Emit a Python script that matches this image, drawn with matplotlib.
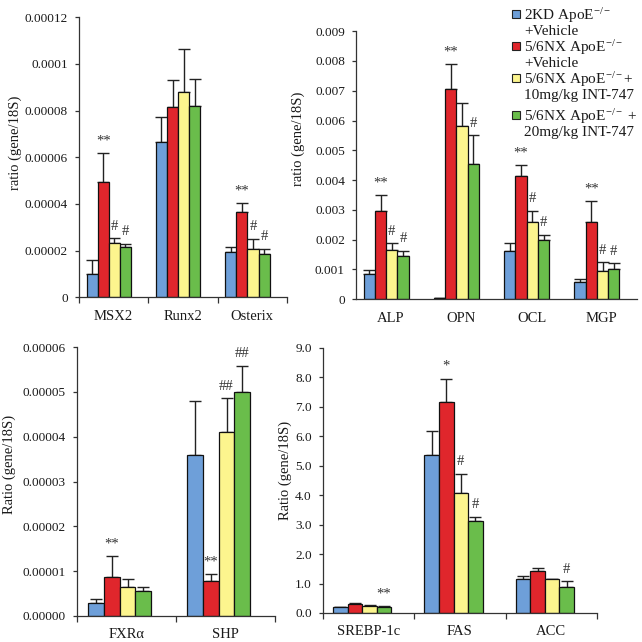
import matplotlib.pyplot as plt
import numpy as np
from matplotlib.patches import Rectangle

plt.rcParams['font.family'] = ['Liberation Serif', 'DejaVu Serif']
plt.rcParams['mathtext.fontset'] = 'custom'
plt.rcParams['mathtext.rm'] = 'Liberation Serif'
plt.rcParams['mathtext.it'] = 'Liberation Serif:italic'

colors = ['#6E9FD9', '#E0262C', '#FCF58E', '#6ABD4B']
legend_labels = ['2KD ApoE$^{-/-}$\n+Vehicle',
                 '5/6NX ApoE$^{-/-}$\n+Vehicle',
                 '5/6NX ApoE$^{-/-}$+\n10mg/kg INT-747',
                 '5/6NX ApoE$^{-/-}$ +\n20mg/kg INT-747']

# top left: bone markers
cats_a = ['MSX2', 'Runx2', 'Osterix']
mean_a = [[1.0e-5, 6.65e-5, 1.92e-5],
          [4.94e-5, 8.17e-5, 3.66e-5],
          [2.32e-5, 8.81e-5, 2.08e-5],
          [2.16e-5, 8.21e-5, 1.84e-5]]
top_a = [[1.6e-5, 7.74e-5, 2.16e-5],
         [6.2e-5, 9.3e-5, 4.03e-5],
         [2.52e-5, 1.065e-4, 2.5e-5],
         [2.3e-5, 9.34e-5, 2.08e-5]]
marks_a = [(0, 1, '**'), (0, 2, '#'), (0, 3, '#'), (2, 1, '**'), (2, 2, '#'), (2, 3, '#')]
ticks_a = [0, 0.00002, 0.00004, 0.00006, 0.00008, 0.0001, 0.00012]
ticklab_a = ['0', '0.00002', '0.00004', '0.00006', '0.00008', '0.0001', '0.00012']

# top right
cats_b = ['ALP', 'OPN', 'OCL', 'MGP']
mean_b = [[0.00084, 0.00003, 0.00162, 0.00057],
          [0.00296, 0.00705, 0.00414, 0.0026],
          [0.00166, 0.0058, 0.0026, 0.00095],
          [0.00145, 0.00455, 0.002, 0.001]]
top_b = [[0.00097, 0.00003, 0.0019, 0.00068],
         [0.0035, 0.0079, 0.0045, 0.0033],
         [0.00187, 0.0066, 0.00296, 0.00124],
         [0.00162, 0.0055, 0.00217, 0.0012]]
marks_b = [(0, 1, '**'), (0, 2, '#'), (0, 3, '#'), (1, 1, '**'), (1, 3, '#'),
           (2, 1, '**'), (2, 2, '#'), (2, 3, '#'), (3, 1, '**'), (3, 2, '#'), (3, 3, '#')]
ticks_b = [0, 0.001, 0.002, 0.003, 0.004, 0.005, 0.006, 0.007, 0.008, 0.009]
ticklab_b = ['0', '0.001', '0.002', '0.003', '0.004', '0.005', '0.006', '0.007', '0.008', '0.009']

# bottom left
cats_c = ['FXRα', 'SHP']
mean_c = [[3.0e-6, 3.59e-5],
          [8.6e-6, 7.9e-6],
          [6.5e-6, 4.1e-5],
          [5.5e-6, 4.99e-5]]
top_c = [[3.9e-6, 4.8e-5],
         [1.34e-5, 9.3e-6],
         [8.3e-6, 4.86e-5],
         [6.5e-6, 5.58e-5]]
marks_c = [(0, 1, '**'), (1, 1, '**'), (1, 2, '##'), (1, 3, '##')]
ticks_c = [0, 0.00001, 0.00002, 0.00003, 0.00004, 0.00005, 0.00006]
ticklab_c = ['0.00000', '0.00001', '0.00002', '0.00003', '0.00004', '0.00005', '0.00006']

# bottom right
cats_d = ['SREBP-1c', 'FAS', 'ACC']
mean_d = [[0.2, 5.38, 1.15],
          [0.32, 7.17, 1.44],
          [0.25, 4.06, 1.15],
          [0.21, 3.12, 0.88]]
top_d = [[0.22, 6.17, 1.24],
         [0.34, 7.96, 1.52],
         [0.27, 4.73, 1.15],
         [0.25, 3.27, 1.07]]
marks_d = [(0, 3, '**'), (1, 1, '*'), (1, 2, '#'), (1, 3, '#'), (2, 3, '#')]
ticks_d = [0, 1, 2, 3, 4, 5, 6, 7, 8, 9]
ticklab_d = ['0.0', '1.0', '2.0', '3.0', '4.0', '5.0', '6.0', '7.0', '8.0', '9.0']

txtc = '#1a1a1a'
fig = plt.figure(figsize=(6.42, 6.42), dpi=100)


def panel(rect, cats, mean, top, marks, ticks, ticklab, ylab, labpos, seps=True):
    ax = fig.add_axes(rect)
    n = len(cats)
    w = 0.16
    x = np.arange(n) + 0.5 - 0.07
    for j in range(4):
        xs = x + (j - 1.5) * w
        m = np.array(mean[j])
        e = np.array(top[j]) - m
        ax.bar(xs, m, width=w, color=colors[j], edgecolor='#111111', linewidth=0.9, zorder=2)
        ax.errorbar(xs, m, yerr=[np.zeros(n), e], fmt='none', ecolor='#222222',
                    elinewidth=1.0, capsize=4.5, capthick=1.0, zorder=1)
        for (ci, gj, s) in marks:
            if gj == j:
                ax.annotate(s, (xs[ci], top[j][ci]), xytext=(0, 4), textcoords='offset points',
                            ha='center', va='bottom', fontsize=10.5, color='#333333')
    ax.set_xlim(0, n)
    ax.set_ylim(ticks[0], ticks[-1])
    ax.set_yticks(ticks, ticklab)
    ax.set_xticks(np.arange(n) + 0.5, cats)
    if seps:
        ax.set_xticks(np.arange(n + 1), minor=True)
    ax.tick_params(axis='x', which='major', length=0, pad=9, labelsize=10.5, colors=txtc)
    ax.tick_params(axis='x', which='minor', length=4, width=0.9, color='#333333', direction='out')
    ax.tick_params(axis='y', length=3, width=0.9, pad=5, labelsize=9.5, colors=txtc)
    ax.tick_params(axis='y', colors='#333333', labelcolor=txtc)
    for s in ['top', 'right']:
        ax.spines[s].set_visible(False)
    for s in ['left', 'bottom']:
        ax.spines[s].set_color('#333333')
        ax.spines[s].set_linewidth(0.9)
    ax.set_ylabel(ylab, fontsize=10.5, color=txtc)
    ax.yaxis.set_label_coords(labpos[0], labpos[1])
    return ax


panel([0.123, 0.537, 0.324, 0.436], cats_a, mean_a, top_a, marks_a, ticks_a, ticklab_a,
      'ratio (gene/18S)', (-0.274, 0.55))
panel([0.5545, 0.534, 0.4377, 0.4174], cats_b, mean_b, top_b, marks_b, ticks_b, ticklab_b,
      'ratio (gene/18S)', (-0.181, 0.6), seps=False)
panel([0.12, 0.0405, 0.3084, 0.419], cats_c, mean_c, top_c, marks_c, ticks_c, ticklab_c,
      'Ratio (gene/18S)', (-0.308, 0.565))
panel([0.503, 0.0452, 0.4268, 0.4128], cats_d, mean_d, top_d, marks_d, ticks_d, ticklab_d,
      'Ratio (gene/18S)', (-0.113, 0.536))

# legend (top right, drawn in figure pixels)
leg_y = [6, 38, 70, 107]
for j in range(4):
    y0 = leg_y[j]
    fig.patches.append(Rectangle((512 / 642, 1 - (y0 + 12) / 642), 8 / 642, 8 / 642,
                                 transform=fig.transFigure, facecolor=colors[j],
                                 edgecolor='#222222', linewidth=0.8))
    fig.text(524 / 642, 1 - y0 / 642, legend_labels[j], ha='left', va='top',
             fontsize=11, color=txtc, linespacing=1.05)

fig.savefig('out.png', dpi=100)
